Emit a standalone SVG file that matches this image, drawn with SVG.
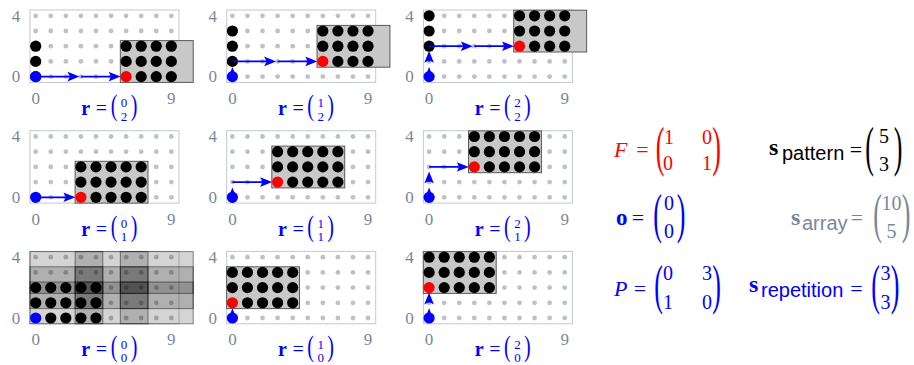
<svg xmlns="http://www.w3.org/2000/svg" width="914" height="365" viewBox="0 0 914 365">
<style>
.frame{fill:#fff;stroke:#c3c8d1;stroke-width:1}
.gd{fill:#bcc1ca}
.box{fill:#c8c8c8;stroke:#5a5a5a;stroke-width:1}
.obox{fill:#000;fill-opacity:.17;stroke:#000;stroke-opacity:.45;stroke-width:1}
.red{fill:#f00}
.blu{fill:#00f}
.tk{font-family:"Liberation Serif",serif;font-size:17px;fill:#7a879b;text-anchor:middle}
.arr{stroke:#00f;stroke-width:1.7;fill:none;marker-end:url(#ah)}
.rl{font-family:"Liberation Serif",serif;fill:#00f;font-size:20px}
.rb{font-weight:bold}
.mid{text-anchor:middle}
.rn{font-size:13px;text-anchor:middle}
.m{font-family:"Liberation Serif",serif;font-size:20px}
.eq{font-size:22px;text-anchor:middle}
.bp{font-size:26px;text-anchor:middle}
.sf{font-family:"Liberation Sans",sans-serif;font-size:20px}
.bs{font-weight:bold;font-size:24px}
</style>
<defs>
<marker id="ah" markerUnits="userSpaceOnUse" viewBox="0 -6 13 12" markerWidth="13" markerHeight="12" refX="8" refY="0" orient="auto"><path d="M0,-4.8 L12,0 L0,4.8 L2.5,0 Z" fill="#00f"/></marker>
<clipPath id="fc"><rect x="-5.7" y="-66.6" width="149" height="72.4"/></clipPath>
<g id="grid" class="gd">
<circle cx="0" cy="0" r="2.4"/><circle cx="15.07" cy="0" r="2.4"/><circle cx="30.14" cy="0" r="2.4"/><circle cx="45.21" cy="0" r="2.4"/><circle cx="60.28" cy="0" r="2.4"/><circle cx="75.35" cy="0" r="2.4"/><circle cx="90.42" cy="0" r="2.4"/><circle cx="105.49" cy="0" r="2.4"/><circle cx="120.56" cy="0" r="2.4"/><circle cx="135.63" cy="0" r="2.4"/>
<circle cx="0" cy="-15.2" r="2.4"/><circle cx="15.07" cy="-15.2" r="2.4"/><circle cx="30.14" cy="-15.2" r="2.4"/><circle cx="45.21" cy="-15.2" r="2.4"/><circle cx="60.28" cy="-15.2" r="2.4"/><circle cx="75.35" cy="-15.2" r="2.4"/><circle cx="90.42" cy="-15.2" r="2.4"/><circle cx="105.49" cy="-15.2" r="2.4"/><circle cx="120.56" cy="-15.2" r="2.4"/><circle cx="135.63" cy="-15.2" r="2.4"/>
<circle cx="0" cy="-30.4" r="2.4"/><circle cx="15.07" cy="-30.4" r="2.4"/><circle cx="30.14" cy="-30.4" r="2.4"/><circle cx="45.21" cy="-30.4" r="2.4"/><circle cx="60.28" cy="-30.4" r="2.4"/><circle cx="75.35" cy="-30.4" r="2.4"/><circle cx="90.42" cy="-30.4" r="2.4"/><circle cx="105.49" cy="-30.4" r="2.4"/><circle cx="120.56" cy="-30.4" r="2.4"/><circle cx="135.63" cy="-30.4" r="2.4"/>
<circle cx="0" cy="-45.6" r="2.4"/><circle cx="15.07" cy="-45.6" r="2.4"/><circle cx="30.14" cy="-45.6" r="2.4"/><circle cx="45.21" cy="-45.6" r="2.4"/><circle cx="60.28" cy="-45.6" r="2.4"/><circle cx="75.35" cy="-45.6" r="2.4"/><circle cx="90.42" cy="-45.6" r="2.4"/><circle cx="105.49" cy="-45.6" r="2.4"/><circle cx="120.56" cy="-45.6" r="2.4"/><circle cx="135.63" cy="-45.6" r="2.4"/>
<circle cx="0" cy="-60.8" r="2.4"/><circle cx="15.07" cy="-60.8" r="2.4"/><circle cx="30.14" cy="-60.8" r="2.4"/><circle cx="45.21" cy="-60.8" r="2.4"/><circle cx="60.28" cy="-60.8" r="2.4"/><circle cx="75.35" cy="-60.8" r="2.4"/><circle cx="90.42" cy="-60.8" r="2.4"/><circle cx="105.49" cy="-60.8" r="2.4"/><circle cx="120.56" cy="-60.8" r="2.4"/><circle cx="135.63" cy="-60.8" r="2.4"/>
</g>
<circle id="k" r="5.6" fill="#000"/>
<g id="pat">
<use href="#k" x="15.07" y="0"/><use href="#k" x="30.14" y="0"/><use href="#k" x="45.21" y="0"/><use href="#k" x="60.28" y="0"/>
<use href="#k" x="0" y="-15.2"/><use href="#k" x="15.07" y="-15.2"/><use href="#k" x="30.14" y="-15.2"/><use href="#k" x="45.21" y="-15.2"/><use href="#k" x="60.28" y="-15.2"/>
<use href="#k" x="0" y="-30.4"/><use href="#k" x="15.07" y="-30.4"/><use href="#k" x="30.14" y="-30.4"/><use href="#k" x="45.21" y="-30.4"/><use href="#k" x="60.28" y="-30.4"/>
</g>
<g id="ticks">
<text class="tk" x="-19.7" y="-55">4</text><text class="tk" x="-19.7" y="5.8">0</text><text class="tk" x="0" y="27.3">0</text><text class="tk" x="135.63" y="27.3">9</text>
</g>
</defs>

<g id="panel-1" transform="translate(35.7,76.6)">
<rect class="frame" x="-5.7" y="-66.6" width="149" height="72.4"/>
<use href="#grid"/>
<rect class="box" x="84.62" y="-36" width="72.9" height="41.8"/>
<g clip-path="url(#fc)"><use href="#pat" x="90.42" y="0"/><use href="#pat" x="-60.28" y="0"/></g>
<circle class="red" cx="90.42" cy="0" r="5.6"/>
<circle class="blu" cx="0" cy="0" r="5.6"/>
<use href="#ticks"/>
<g class="rl"><text class="rb" x="45.6" y="38.4">r</text><text class="mid" x="65.7" y="38.4">=</text><text class="mid" transform="translate(78.3,38.3) scale(1,1.44)">(</text><text class="rn" x="88.3" y="30.5">0</text><text class="rn" x="88.3" y="44">2</text><text class="mid" transform="translate(98.3,38.3) scale(1,1.44)">)</text></g>
</g>

<g id="panel-2" transform="translate(232.4,76.6)">
<rect class="frame" x="-5.7" y="-66.6" width="149" height="72.4"/>
<use href="#grid"/>
<rect class="box" x="84.62" y="-51.2" width="72.9" height="41.8"/>
<g clip-path="url(#fc)"><use href="#pat" x="90.42" y="-15.2"/><use href="#pat" x="-60.28" y="-15.2"/></g>
<circle class="red" cx="90.42" cy="-15.2" r="5.6"/>
<circle class="blu" cx="0" cy="0" r="5.6"/>
<use href="#ticks"/>
<g class="rl"><text class="rb" x="45.6" y="38.4">r</text><text class="mid" x="65.7" y="38.4">=</text><text class="mid" transform="translate(78.3,38.3) scale(1,1.44)">(</text><text class="rn" x="88.3" y="30.5">1</text><text class="rn" x="88.3" y="44">2</text><text class="mid" transform="translate(98.3,38.3) scale(1,1.44)">)</text></g>
</g>

<g id="panel-3" transform="translate(429.1,76.6)">
<rect class="frame" x="-5.7" y="-66.6" width="149" height="72.4"/>
<use href="#grid"/>
<rect class="box" x="84.62" y="-66.4" width="72.9" height="41.8"/>
<g clip-path="url(#fc)"><use href="#pat" x="90.42" y="-30.4"/><use href="#pat" x="-60.28" y="-30.4"/></g>
<circle class="red" cx="90.42" cy="-30.4" r="5.6"/>
<circle class="blu" cx="0" cy="0" r="5.6"/>
<use href="#ticks"/>
<g class="rl"><text class="rb" x="45.6" y="38.4">r</text><text class="mid" x="65.7" y="38.4">=</text><text class="mid" transform="translate(78.3,38.3) scale(1,1.44)">(</text><text class="rn" x="88.3" y="30.5">2</text><text class="rn" x="88.3" y="44">2</text><text class="mid" transform="translate(98.3,38.3) scale(1,1.44)">)</text></g>
</g>

<g id="panel-4" transform="translate(35.7,197.3)">
<rect class="frame" x="-5.7" y="-66.6" width="149" height="72.4"/>
<use href="#grid"/>
<rect class="box" x="39.41" y="-36" width="72.9" height="41.8"/>
<use href="#pat" x="45.21" y="0"/>
<circle class="red" cx="45.21" cy="0" r="5.6"/>
<circle class="blu" cx="0" cy="0" r="5.6"/>
<use href="#ticks"/>
<g class="rl"><text class="rb" x="45.6" y="38.4">r</text><text class="mid" x="65.7" y="38.4">=</text><text class="mid" transform="translate(78.3,38.3) scale(1,1.44)">(</text><text class="rn" x="88.3" y="30.5">0</text><text class="rn" x="88.3" y="44">1</text><text class="mid" transform="translate(98.3,38.3) scale(1,1.44)">)</text></g>
</g>

<g id="panel-5" transform="translate(232.4,197.3)">
<rect class="frame" x="-5.7" y="-66.6" width="149" height="72.4"/>
<use href="#grid"/>
<rect class="box" x="39.41" y="-51.2" width="72.9" height="41.8"/>
<use href="#pat" x="45.21" y="-15.2"/>
<circle class="red" cx="45.21" cy="-15.2" r="5.6"/>
<circle class="blu" cx="0" cy="0" r="5.6"/>
<use href="#ticks"/>
<g class="rl"><text class="rb" x="45.6" y="38.4">r</text><text class="mid" x="65.7" y="38.4">=</text><text class="mid" transform="translate(78.3,38.3) scale(1,1.44)">(</text><text class="rn" x="88.3" y="30.5">1</text><text class="rn" x="88.3" y="44">1</text><text class="mid" transform="translate(98.3,38.3) scale(1,1.44)">)</text></g>
</g>

<g id="panel-6" transform="translate(429.1,197.3)">
<rect class="frame" x="-5.7" y="-66.6" width="149" height="72.4"/>
<use href="#grid"/>
<rect class="box" x="39.41" y="-66.4" width="72.9" height="41.8"/>
<use href="#pat" x="45.21" y="-30.4"/>
<circle class="red" cx="45.21" cy="-30.4" r="5.6"/>
<circle class="blu" cx="0" cy="0" r="5.6"/>
<use href="#ticks"/>
<g class="rl"><text class="rb" x="45.6" y="38.4">r</text><text class="mid" x="65.7" y="38.4">=</text><text class="mid" transform="translate(78.3,38.3) scale(1,1.44)">(</text><text class="rn" x="88.3" y="30.5">2</text><text class="rn" x="88.3" y="44">1</text><text class="mid" transform="translate(98.3,38.3) scale(1,1.44)">)</text></g>
</g>

<g id="panel-7" transform="translate(35.7,318)">
<rect class="frame" x="-5.7" y="-66.6" width="149" height="72.4"/>
<use href="#grid"/>
<rect class="obox" x="-5.8" y="-36" width="72.9" height="41.8"/>
<rect class="obox" x="39.41" y="-36" width="72.9" height="41.8"/>
<rect class="obox" x="84.62" y="-36" width="72.9" height="41.8"/>
<rect class="obox" x="-5.8" y="-51.2" width="72.9" height="41.8"/>
<rect class="obox" x="39.41" y="-51.2" width="72.9" height="41.8"/>
<rect class="obox" x="84.62" y="-51.2" width="72.9" height="41.8"/>
<rect class="obox" x="-5.8" y="-66.4" width="72.9" height="41.8"/>
<rect class="obox" x="39.41" y="-66.4" width="72.9" height="41.8"/>
<rect class="obox" x="84.62" y="-66.4" width="72.9" height="41.8"/>
<use href="#pat" x="0" y="0"/>
<circle class="blu" cx="0" cy="0" r="5.6"/>
<use href="#ticks"/>
<g class="rl"><text class="rb" x="45.6" y="38.4">r</text><text class="mid" x="65.7" y="38.4">=</text><text class="mid" transform="translate(78.3,38.3) scale(1,1.44)">(</text><text class="rn" x="88.3" y="30.5">0</text><text class="rn" x="88.3" y="44">0</text><text class="mid" transform="translate(98.3,38.3) scale(1,1.44)">)</text></g>
</g>

<g id="panel-8" transform="translate(232.4,318)">
<rect class="frame" x="-5.7" y="-66.6" width="149" height="72.4"/>
<use href="#grid"/>
<rect class="box" x="-5.8" y="-51.2" width="72.9" height="41.8"/>
<use href="#pat" x="0" y="-15.2"/>
<circle class="red" cx="0" cy="-15.2" r="5.6"/>
<circle class="blu" cx="0" cy="0" r="5.6"/>
<use href="#ticks"/>
<g class="rl"><text class="rb" x="45.6" y="38.4">r</text><text class="mid" x="65.7" y="38.4">=</text><text class="mid" transform="translate(78.3,38.3) scale(1,1.44)">(</text><text class="rn" x="88.3" y="30.5">1</text><text class="rn" x="88.3" y="44">0</text><text class="mid" transform="translate(98.3,38.3) scale(1,1.44)">)</text></g>
</g>

<g id="panel-9" transform="translate(429.1,318)">
<rect class="frame" x="-5.7" y="-66.6" width="149" height="72.4"/>
<use href="#grid"/>
<rect class="box" x="-5.8" y="-66.4" width="72.9" height="41.8"/>
<use href="#pat" x="0" y="-30.4"/>
<circle class="red" cx="0" cy="-30.4" r="5.6"/>
<circle class="blu" cx="0" cy="0" r="5.6"/>
<use href="#ticks"/>
<g class="rl"><text class="rb" x="45.6" y="38.4">r</text><text class="mid" x="65.7" y="38.4">=</text><text class="mid" transform="translate(78.3,38.3) scale(1,1.44)">(</text><text class="rn" x="88.3" y="30.5">2</text><text class="rn" x="88.3" y="44">0</text><text class="mid" transform="translate(98.3,38.3) scale(1,1.44)">)</text></g>
</g>

<g id="connectors">
<g transform="translate(35.7,76.6)"><line class="arr" x1="0" y1="0" x2="39.7" y2="0"/><line class="arr" x1="45.21" y1="0" x2="80.9" y2="0"/></g>
<g transform="translate(232.4,76.6)"><line class="arr" x1="0" y1="0" x2="0" y2="-5.7"/><line class="arr" x1="0" y1="-15.2" x2="39.7" y2="-15.2"/><line class="arr" x1="45.21" y1="-15.2" x2="80.9" y2="-15.2"/></g>
<g transform="translate(429.1,76.6)"><line class="arr" x1="0" y1="0" x2="0" y2="-5.7"/><line class="arr" x1="0" y1="-15.2" x2="0" y2="-21.9"/><line class="arr" x1="0" y1="-30.4" x2="39.7" y2="-30.4"/><line class="arr" x1="45.21" y1="-30.4" x2="80.9" y2="-30.4"/></g>
<g transform="translate(35.7,197.3)"><line class="arr" x1="0" y1="0" x2="35.7" y2="0"/></g>
<g transform="translate(232.4,197.3)"><line class="arr" x1="0" y1="0" x2="0" y2="-5.7"/><line class="arr" x1="0" y1="-15.2" x2="35.7" y2="-15.2"/></g>
<g transform="translate(429.1,197.3)"><line class="arr" x1="0" y1="0" x2="0" y2="-5.7"/><line class="arr" x1="0" y1="-15.2" x2="0" y2="-21.9"/><line class="arr" x1="0" y1="-30.4" x2="35.7" y2="-30.4"/></g>
<g transform="translate(232.4,318)"><line class="arr" x1="0" y1="0" x2="0" y2="-5.7"/></g>
<g transform="translate(429.1,318)"><line class="arr" x1="0" y1="0" x2="0" y2="-5.7"/><line class="arr" x1="0" y1="-15.2" x2="0" y2="-21.5"/></g>
</g>

<g id="eq-F" class="m" fill="#f00">
<text x="614" y="157" font-style="italic" font-size="22">F</text>
<text class="eq" x="642.5" y="157">=</text>
<text class="bp" transform="translate(660,165.2) scale(1,2.1)">(</text>
<text class="mid" x="669" y="143.5">1</text><text class="mid" x="707" y="143.5">0</text>
<text class="mid" x="668" y="170">0</text><text class="mid" x="707" y="170">1</text>
<text class="bp" transform="translate(716.5,165.2) scale(1,2.1)">)</text>
</g>

<g id="eq-spattern" class="m" fill="#000">
<text class="bs" x="769" y="155">s</text>
<text class="sf" x="782" y="160">pattern</text>
<text class="eq" x="856" y="157">=</text>
<text class="bp" transform="translate(869.5,165.2) scale(1,2.1)">(</text>
<text class="mid" x="884" y="143">5</text><text class="mid" x="884" y="171">3</text>
<text class="bp" transform="translate(898,165.2) scale(1,2.1)">)</text>
</g>

<g id="eq-o" class="m" fill="#00f">
<text x="616" y="225" font-weight="bold" font-size="23">o</text>
<text class="eq" x="638" y="225">=</text>
<text class="bp" transform="translate(657.5,231.7) scale(1,2.1)">(</text>
<text class="mid" x="669" y="210">0</text><text class="mid" x="669" y="238">0</text>
<text class="bp" transform="translate(681,231.7) scale(1,2.1)">)</text>
</g>

<g id="eq-sarray" class="m" fill="#7a879b">
<text class="bs" x="791" y="225">s</text>
<text class="sf" x="802" y="230">array</text>
<text class="eq" x="857" y="225">=</text>
<text class="bp" transform="translate(877.5,231.7) scale(1,2.1)">(</text>
<text class="mid" x="891.5" y="210">10</text><text class="mid" x="891.5" y="238">5</text>
<text class="bp" transform="translate(906,231.7) scale(1,2.1)">)</text>
</g>

<g id="eq-P" class="m" fill="#00f">
<text x="614" y="295.5" font-style="italic" font-size="22">P</text>
<text class="eq" x="640" y="295.5">=</text>
<text class="bp" transform="translate(658.5,302.7) scale(1,2.1)">(</text>
<text class="mid" x="668" y="280">0</text><text class="mid" x="707" y="280">3</text>
<text class="mid" x="668" y="309">1</text><text class="mid" x="707" y="309">0</text>
<text class="bp" transform="translate(716.5,302.7) scale(1,2.1)">)</text>
</g>

<g id="eq-srep" class="m" fill="#00f">
<text class="bs" x="749" y="292">s</text>
<text class="sf" x="761" y="297">repetition</text>
<text class="eq" x="856.5" y="296">=</text>
<text class="bp" transform="translate(875.5,302.7) scale(1,2.1)">(</text>
<text class="mid" x="885.5" y="280">3</text><text class="mid" x="885.5" y="309">3</text>
<text class="bp" transform="translate(895,302.7) scale(1,2.1)">)</text>
</g>
</svg>
